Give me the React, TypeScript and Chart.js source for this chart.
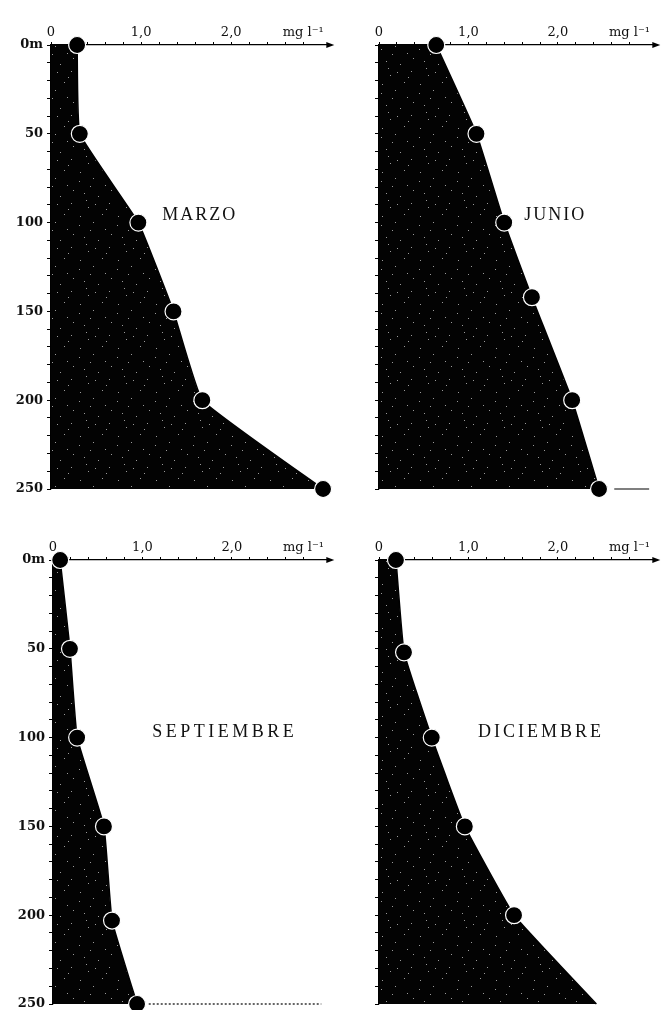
import { useEffect, useRef } from "react";
import { Chart, registerables } from "chart.js";
Chart.register(...registerables);

// ---- data (depth in m, value in mg l-1) ----
const marzoDepths = [0, 50, 100, 150, 200, 250];
const marzoValues = [0.29, 0.32, 0.97, 1.36, 1.68, 3.02];
const junioDepths = [0, 50, 100, 142, 200, 250];
const junioValues = [0.64, 1.09, 1.4, 1.71, 2.16, 2.46];
const septDepths = [0, 50, 100, 150, 203, 250];
const septValues = [0.08, 0.19, 0.27, 0.57, 0.66, 0.94];
const dicDepths = [0, 52, 100, 150, 200, 250];
const dicValues = [0.19, 0.28, 0.59, 0.96, 1.51, 2.43];
const dicMarkers = [true, true, true, true, true, false];

const junioTail = [2.63, 3.02];
const septTail = [1.07, 3.0];

const xTickLabels: Record<number, string> = { 0: "0", 10: "1,0", 20: "2,0", 28: "mg l\u207B\u00B9" };
const yTickLabels: Record<number, string> = { 0: "0m", 50: "50", 100: "100", 150: "150", 200: "200", 250: "250" };
const monthNames = ["MARZO", "JUNIO", "SEPTIEMBRE", "DICIEMBRE"];

// speckle style for the fill texture (fixed positions)
const speckles = [
  [3, 5], [17, 2], [29, 9], [8, 17], [22, 20], [33, 27], [12, 31], [26, 38], [4, 40], [19, 28], [35, 14], [10, 24],
  [14, 10], [30, 33],
];

function makePattern() {
  const c = document.createElement("canvas");
  c.width = 38;
  c.height = 44;
  const g = c.getContext("2d")!;
  g.fillStyle = "#030303";
  g.fillRect(0, 0, 38, 44);
  g.fillStyle = "#9a9a9a";
  speckles.forEach(([x, y]) => g.fillRect(x, y, 1, 1));
  return g.createPattern(c, "repeat")!;
}

type Panel = {
  name: string;
  depths: number[];
  values: number[];
  markers?: boolean[];
  tail?: number[];
  tailDash?: number[];
  left: number;
  top: number;
  w: number;
  h: number;
  axisW: number;
  axisH: number;
  padR: number;
  padB: number;
  showYLabels: boolean;
  labelX: number;
  labelY: number;
  labelSpacing: number;
};

const panels: Panel[] = [
  { name: monthNames[0], depths: marzoDepths, values: marzoValues, left: 0, top: 0, w: 340, h: 500, axisW: 51, axisH: 45, padR: 8.5, padB: 11, showYLabels: true, labelX: 1.65, labelY: 96, labelSpacing: 2 },
  { name: monthNames[1], depths: junioDepths, values: junioValues, tail: junioTail, left: 340, top: 0, w: 326, h: 500, axisW: 39, axisH: 45, padR: 6.5, padB: 11, showYLabels: false, labelX: 1.97, labelY: 96, labelSpacing: 2 },
  { name: monthNames[2], depths: septDepths, values: septValues, tail: septTail, tailDash: [2, 2], left: 0, top: 500, w: 340, h: 520, axisW: 53, axisH: 60, padR: 6.5, padB: 16, showYLabels: true, labelX: 1.92, labelY: 97, labelSpacing: 3.5 },
  { name: monthNames[3], depths: dicDepths, values: dicValues, markers: dicMarkers, left: 340, top: 500, w: 326, h: 520, axisW: 39, axisH: 60, padR: 6.5, padB: 16, showYLabels: false, labelX: 1.81, labelY: 97, labelSpacing: 3 },
];

function PanelChart({ p }: { p: Panel }) {
  const ref = useRef<HTMLCanvasElement>(null);
  useEffect(() => {
    const canvas = ref.current!;
    const pattern = makePattern();
    const data = p.depths.map((d, i) => ({ x: p.values[i], y: d }));
    const radii = p.depths.map((_, i) => (p.markers && !p.markers[i] ? 0 : 8.5));
    const datasets: any[] = [
      {
        data,
        borderColor: "#000",
        borderWidth: 1.5,
        backgroundColor: pattern,
        fill: "origin",
        tension: 0.1,
        pointRadius: radii,
        pointBackgroundColor: "#000",
        pointBorderColor: "#fff",
        pointBorderWidth: 1.2,
        clip: false,
      },
    ];
    if (p.tail) {
      datasets.push({
        data: p.tail.map((v) => ({ x: v, y: 250 })),
        borderColor: "#000",
        borderWidth: 1.2,
        borderDash: p.tailDash || [],
        pointRadius: 0,
        fill: false,
        clip: false,
      });
    }
    const decor = {
      id: "decor",
      afterDraw(chart: any) {
        const { ctx, chartArea, scales } = chart;
        ctx.save();
        // arrow head on the value axis
        ctx.fillStyle = "#000";
        ctx.beginPath();
        ctx.moveTo(chartArea.right + 4, chartArea.top);
        ctx.lineTo(chartArea.right - 4, chartArea.top - 3);
        ctx.lineTo(chartArea.right - 4, chartArea.top + 3);
        ctx.closePath();
        ctx.fill();
        // month label
        ctx.font = "18px 'Liberation Serif', serif";
        (ctx as any).letterSpacing = p.labelSpacing + "px";
        ctx.textAlign = "center";
        ctx.textBaseline = "middle";
        ctx.fillStyle = "#111";
        ctx.fillText(p.name, scales.x.getPixelForValue(p.labelX), scales.y.getPixelForValue(p.labelY));
        ctx.restore();
      },
    };
    const chart = new Chart(canvas, {
      type: "line",
      data: { datasets },
      plugins: [decor],
      options: {
        animation: false,
        responsive: false,
        indexAxis: "y",
        layout: { padding: { left: 0, top: 0, right: p.padR, bottom: p.padB } },
        plugins: { legend: { display: false }, tooltip: { enabled: false } },
        scales: {
          x: {
            type: "linear",
            position: "top",
            min: 0,
            max: 3.1,
            afterFit: (s: any) => {
              s.height = p.axisH;
            },
            afterBuildTicks: (s: any) => {
              s.ticks = s.ticks.filter((t: any) => t.value <= 3.0001);
            },
            ticks: {
              stepSize: 0.2,
              autoSkip: false,
              maxRotation: 0,
              padding: 2,
              color: "#111",
              font: { family: "'DejaVu Serif', serif", size: 13 },
              callback: (v: any) => xTickLabels[Math.round(Number(v) * 10)] ?? "",
            },
            grid: { display: true, drawOnChartArea: false, drawTicks: true, tickLength: 3, color: "#000" },
            border: { display: true, color: "#000", width: 1.2 },
          },
          y: {
            type: "linear",
            reverse: true,
            min: 0,
            max: 250,
            afterFit: (s: any) => {
              s.width = p.axisW;
            },
            ticks: {
              stepSize: 10,
              autoSkip: false,
              padding: 4,
              color: "#111",
              font: { family: "'DejaVu Serif', serif", size: 13, weight: "bold", lineHeight: 1 },
              callback: (v: any) => (p.showYLabels ? yTickLabels[Number(v)] ?? "" : ""),
            },
            grid: { display: true, drawOnChartArea: false, drawTicks: true, tickLength: 4, color: "#000" },
            border: { display: true, color: "#000", width: 1.2 },
          },
        },
      },
    });
    return () => chart.destroy();
  }, [p]);
  return (
    <canvas
      ref={ref}
      width={p.w}
      height={p.h}
      style={{ position: "absolute", left: p.left, top: p.top, width: p.w, height: p.h }}
    />
  );
}

export default function App() {
  return (
    <div style={{ position: "absolute", left: 0, top: 0, width: 666, height: 1010, overflow: "hidden", background: "#fff" }}>
      {panels.map((p) => (
        <PanelChart key={p.name} p={p} />
      ))}
    </div>
  );
}
